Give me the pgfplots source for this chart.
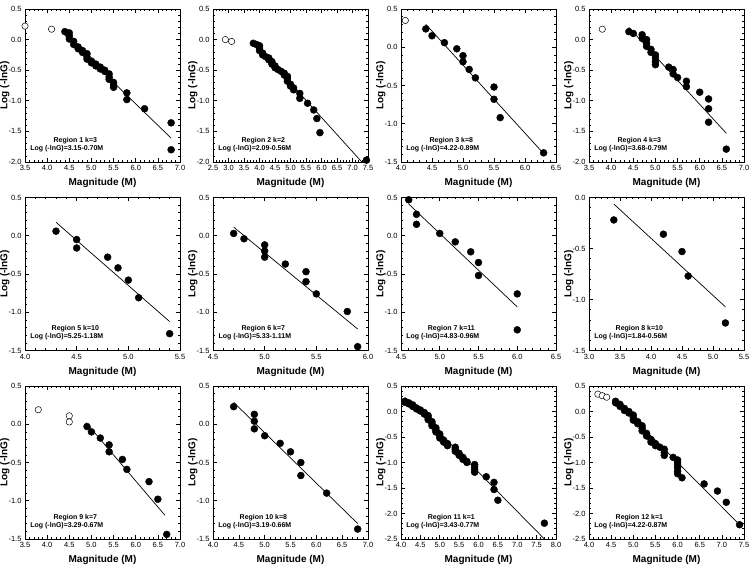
\documentclass[border=0pt]{standalone}
\usepackage{fontspec}
\setmainfont{Liberation Sans}
\usepackage{pgfplots}
\pgfplotsset{compat=1.18}
\usepgfplotslibrary{groupplots}
\begin{document}
\begin{tikzpicture}
\pgfplotsset{
  pts/.style={only marks, mark=*, mark size=3.5pt, mark options={fill=black, draw=black}},
  opn/.style={only marks, mark=*, mark size=3.2pt, mark options={fill=white, draw=black, line width=0.5pt}},
  fitl/.style={black, line width=0.7pt, no marks},
}
\tikzset{regtxt/.style={font=\bfseries\fontsize{7}{8}\selectfont, anchor=center, inner sep=0pt}}
\begin{groupplot}[
  group style={group size=4 by 3, horizontal sep=33pt, vertical sep=35.5pt},
  width=155pt, height=153pt, scale only axis,
  xtick distance=0.5, ytick distance=0.5,
  minor x tick num=4, minor y tick num=4,
  tick align=inside, major tick length=4pt, minor tick length=2pt,
  axis line style={line width=0.8pt},
  every tick/.style={black, line width=0.6pt},
  xlabel={Magnitude (M)}, ylabel={Log (-lnG)},
  xlabel style={at={(axis description cs:0.5,-0.14)}, anchor=center, font=\bfseries\fontsize{10}{11}\selectfont},
  ylabel style={at={(axis description cs:-0.13,0.5)}, anchor=center, font=\bfseries\fontsize{10}{11}\selectfont},
  tick label style={font=\fontsize{7.5}{8.5}\selectfont,
    /pgf/number format/fixed, /pgf/number format/fixed zerofill,
    /pgf/number format/precision=1, /pgf/number format/assume math mode=true},
  clip mode=individual,
]
% ---------- Region 1
\nextgroupplot[xmin=3.5, xmax=7.0, ymin=-2.0, ymax=0.5]
\addplot[fitl] coordinates {(4.4,0.07) (6.8,-1.61)};
\addplot[opn] coordinates {(3.5,0.22) (4.1,0.17)};
\addplot[pts] coordinates {
(4.4,0.13) (4.5,0.11) (4.5,0.06) (4.5,0.01) (4.6,-0.03) (4.6,-0.08)
(4.7,-0.12) (4.7,-0.15) (4.8,-0.18) (4.8,-0.21) (4.9,-0.23) (4.9,-0.28)
(4.9,-0.32) (5.0,-0.35) (5.0,-0.38) (5.1,-0.40) (5.1,-0.43) (5.2,-0.45)
(5.2,-0.48) (5.3,-0.50) (5.3,-0.52) (5.4,-0.56) (5.4,-0.61) (5.4,-0.65)
(5.5,-0.70) (5.5,-0.74) (5.5,-0.78) (5.8,-0.87) (5.8,-0.98) (6.2,-1.13)
(6.8,-1.36) (6.8,-1.80)};
\node[regtxt] at (rel axis cs:0.325,0.14) {Region 1 k=3};
\node[regtxt] at (rel axis cs:0.27,0.09) {Log (-lnG)=3.15-0.70M};
% ---------- Region 2
\nextgroupplot[xmin=2.5, xmax=7.5, ymin=-2.0, ymax=0.5]
\addplot[fitl] coordinates {(3.8,-0.04) (7.3,-2.0)};
\addplot[opn] coordinates {(2.9,0.0) (3.1,-0.03)};
\addplot[pts] coordinates {
(3.8,-0.06) (3.9,-0.08) (4.0,-0.10) (4.0,-0.14) (4.0,-0.18) (4.1,-0.22)
(4.1,-0.25) (4.2,-0.28) (4.3,-0.30) (4.3,-0.33) (4.4,-0.36) (4.4,-0.40)
(4.5,-0.43) (4.5,-0.46) (4.6,-0.49) (4.7,-0.52) (4.8,-0.55) (4.8,-0.58)
(4.9,-0.60) (4.9,-0.64) (4.9,-0.68) (5.0,-0.73) (5.0,-0.76) (5.1,-0.79)
(5.1,-0.82) (5.3,-0.88) (5.3,-0.96) (5.55,-1.04) (5.75,-1.15) (5.85,-1.29)
(5.95,-1.52) (7.45,-1.97)};
\node[regtxt] at (rel axis cs:0.325,0.14) {Region 2 k=2};
\node[regtxt] at (rel axis cs:0.27,0.09) {Log (-lnG)=2.09-0.56M};
% ---------- Region 3
\nextgroupplot[xmin=4.0, xmax=6.5, ymin=-1.5, ymax=0.5]
\addplot[fitl] coordinates {(4.4,0.30) (6.3,-1.39)};
\addplot[opn] coordinates {(4.07,0.35)};
\addplot[pts] coordinates {
(4.4,0.24) (4.5,0.15) (4.7,0.06) (4.9,-0.02) (5.0,-0.11) (5.0,-0.19)
(5.1,-0.29) (5.2,-0.40) (5.5,-0.52) (5.5,-0.68) (5.6,-0.92) (6.3,-1.38)};
\node[regtxt] at (rel axis cs:0.325,0.14) {Region 3 k=8};
\node[regtxt] at (rel axis cs:0.27,0.09) {Log (-lnG)=4.22-0.89M};
% ---------- Region 4
\nextgroupplot[xmin=3.5, xmax=7.0, ymin=-2.0, ymax=0.5]
\addplot[fitl] coordinates {(4.4,0.20) (6.6,-1.53)};
\addplot[opn] coordinates {(3.8,0.17)};
\addplot[pts] coordinates {
(4.4,0.13) (4.5,0.10) (4.7,0.08) (4.7,0.02) (4.8,0.0) (4.8,-0.06)
(4.8,-0.11) (4.9,-0.16) (4.9,-0.21) (5.0,-0.25) (5.0,-0.30) (5.0,-0.36)
(5.0,-0.41) (5.3,-0.45) (5.4,-0.49) (5.4,-0.56) (5.5,-0.62) (5.7,-0.68)
(5.7,-0.77) (6.0,-0.86) (6.2,-0.97) (6.2,-1.13) (6.2,-1.35) (6.6,-1.79)};
\node[regtxt] at (rel axis cs:0.325,0.14) {Region 4 k=3};
\node[regtxt] at (rel axis cs:0.27,0.09) {Log (-lnG)=3.68-0.79M};
% ---------- Region 5
\nextgroupplot[xmin=4.0, xmax=5.5, ymin=-1.5, ymax=0.5]
\addplot[fitl] coordinates {(4.3,0.176) (5.4,-1.122)};
\addplot[pts] coordinates {
(4.3,0.06) (4.5,-0.05) (4.5,-0.16) (4.8,-0.28) (4.9,-0.42) (5.0,-0.58)
(5.1,-0.81) (5.4,-1.28)};
\node[regtxt] at (rel axis cs:0.325,0.14) {Region 5 k=10};
\node[regtxt] at (rel axis cs:0.27,0.09) {Log (-lnG)=5.25-1.18M};
% ---------- Region 6
\nextgroupplot[xmin=4.5, xmax=6.0, ymin=-1.5, ymax=0.5]
\addplot[fitl] coordinates {(4.7,0.113) (5.9,-1.219)};
\addplot[pts] coordinates {
(4.7,0.03) (4.8,-0.04) (5.0,-0.12) (5.0,-0.20) (5.0,-0.28) (5.2,-0.37)
(5.4,-0.47) (5.4,-0.60) (5.5,-0.76) (5.8,-0.99) (5.9,-1.45)};
\node[regtxt] at (rel axis cs:0.325,0.14) {Region 6 k=7};
\node[regtxt] at (rel axis cs:0.27,0.09) {Log (-lnG)=5.33-1.11M};
% ---------- Region 7
\nextgroupplot[xmin=4.5, xmax=6.5, ymin=-1.5, ymax=0.5]
\addplot[fitl] coordinates {(4.6,0.414) (6.0,-0.93)};
\addplot[pts] coordinates {
(4.6,0.47) (4.7,0.28) (4.7,0.15) (5.0,0.03) (5.2,-0.08) (5.4,-0.21)
(5.5,-0.35) (5.5,-0.52) (6.0,-0.76) (6.0,-1.23)};
\node[regtxt] at (rel axis cs:0.325,0.14) {Region 7 k=11};
\node[regtxt] at (rel axis cs:0.27,0.09) {Log (-lnG)=4.83-0.96M};
% ---------- Region 8
\nextgroupplot[xmin=3.0, xmax=5.5, ymin=-1.5, ymax=0.0]
\addplot[fitl] coordinates {(3.4,-0.064) (5.2,-1.072)};
\addplot[pts] coordinates {
(3.4,-0.22) (4.2,-0.36) (4.5,-0.53) (4.6,-0.77) (5.2,-1.23)};
\node[regtxt] at (rel axis cs:0.325,0.14) {Region 8 k=10};
\node[regtxt] at (rel axis cs:0.27,0.09) {Log (-lnG)=1.84-0.56M};
% ---------- Region 9
\nextgroupplot[xmin=3.5, xmax=7.0, ymin=-1.5, ymax=0.5]
\addplot[fitl] coordinates {(4.88,0.02) (6.66,-1.19)};
\addplot[opn] coordinates {(3.8,0.19) (4.5,0.11) (4.5,0.03)};
\addplot[pts] coordinates {
(4.9,-0.03) (5.0,-0.10) (5.2,-0.18) (5.4,-0.27) (5.4,-0.36) (5.7,-0.46)
(5.8,-0.59) (6.3,-0.75) (6.5,-0.98) (6.7,-1.44)};
\node[regtxt] at (rel axis cs:0.325,0.14) {Region 9 k=7};
\node[regtxt] at (rel axis cs:0.27,0.09) {Log (-lnG)=3.29-0.67M};
% ---------- Region 10
\nextgroupplot[xmin=4.0, xmax=7.0, ymin=-1.5, ymax=0.5]
\addplot[fitl] coordinates {(4.4,0.286) (6.8,-1.298)};
\addplot[pts] coordinates {
(4.4,0.23) (4.8,0.13) (4.8,0.04) (4.8,-0.06) (5.0,-0.15) (5.3,-0.25)
(5.5,-0.36) (5.7,-0.50) (5.7,-0.67) (6.2,-0.90) (6.8,-1.37)};
\node[regtxt] at (rel axis cs:0.325,0.14) {Region 10 k=8};
\node[regtxt] at (rel axis cs:0.27,0.09) {Log (-lnG)=3.19-0.66M};
% ---------- Region 11
\nextgroupplot[xmin=4.0, xmax=8.0, ymin=-2.5, ymax=0.5]
\addplot[fitl] coordinates {(4.1,0.273) (7.7,-2.499)};
\addplot[pts] coordinates {
(4.1,0.20) (4.1,0.18) (4.2,0.17) (4.2,0.15) (4.3,0.13) (4.3,0.10)
(4.4,0.07) (4.4,0.05) (4.5,0.03) (4.5,0.01) (4.6,-0.02) (4.6,-0.05)
(4.7,-0.08) (4.7,-0.12) (4.7,-0.16) (4.8,-0.20) (4.8,-0.24) (4.8,-0.28)
(4.9,-0.32) (4.9,-0.36) (4.9,-0.40) (5.0,-0.44) (5.0,-0.48) (5.0,-0.52)
(5.1,-0.56) (5.1,-0.60) (5.2,-0.63) (5.2,-0.67) (5.4,-0.70) (5.4,-0.74)
(5.4,-0.78) (5.5,-0.82) (5.5,-0.86) (5.6,-0.90) (5.6,-0.94) (5.7,-0.98)
(5.7,-1.00) (5.9,-1.04) (5.9,-1.09) (5.9,-1.14) (5.9,-1.19) (6.2,-1.28)
(6.4,-1.39) (6.4,-1.53) (6.5,-1.74) (7.7,-2.19)};
\node[regtxt] at (rel axis cs:0.325,0.14) {Region 11 k=1};
\node[regtxt] at (rel axis cs:0.27,0.09) {Log (-lnG)=3.43-0.77M};
% ---------- Region 12
\nextgroupplot[xmin=4.0, xmax=7.5, ymin=-2.5, ymax=0.5]
\addplot[fitl] coordinates {(4.6,0.218) (7.4,-2.218)};
\addplot[opn] coordinates {(4.2,0.34) (4.3,0.31) (4.4,0.28)};
\addplot[pts] coordinates {
(4.6,0.20) (4.6,0.17) (4.7,0.14) (4.7,0.10) (4.8,0.06) (4.8,0.02)
(4.9,0.0) (4.9,-0.03) (5.0,-0.07) (5.0,-0.12) (5.0,-0.17) (5.1,-0.20)
(5.1,-0.24) (5.2,-0.28) (5.2,-0.33) (5.2,-0.38) (5.3,-0.43) (5.3,-0.48)
(5.4,-0.55) (5.4,-0.60) (5.5,-0.63) (5.5,-0.67) (5.6,-0.70) (5.7,-0.74)
(5.7,-0.80) (5.7,-0.86) (5.9,-0.90) (6.0,-0.95) (6.0,-1.00) (6.0,-1.05)
(6.0,-1.10) (6.0,-1.17) (6.0,-1.22) (6.1,-1.30) (6.6,-1.42) (6.9,-1.56)
(7.1,-1.78) (7.4,-2.22)};
\node[regtxt] at (rel axis cs:0.325,0.14) {Region 12 k=1};
\node[regtxt] at (rel axis cs:0.27,0.09) {Log (-lnG)=4.22-0.87M};
\end{groupplot}
\pgfresetboundingbox
\path ([shift={(-25pt,9pt)}]group c1r1.north west) rectangle ++(755pt,-569pt);
\end{tikzpicture}
\end{document}
